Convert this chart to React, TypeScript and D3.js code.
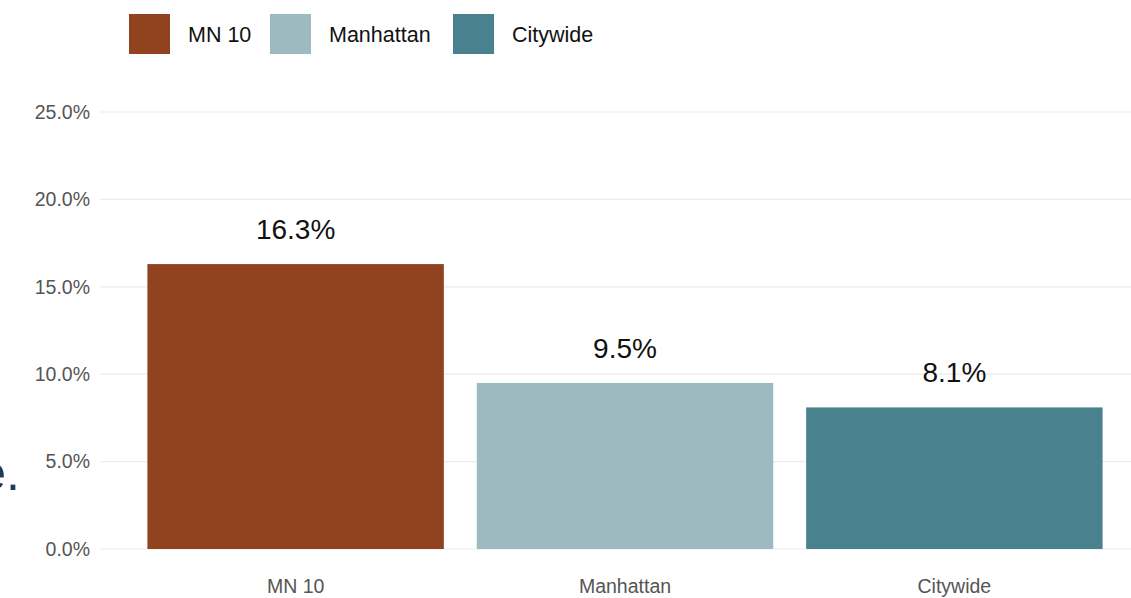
import React from "react";
import * as d3 from "d3";

const categories = ["MN 10", "Manhattan", "Citywide"];
const values = [16.3, 9.5, 8.1];
const valueLabels = ["16.3%", "9.5%", "8.1%"];
const colors = ["#914320", "#9dbac1", "#4a818e"];
const yTicks = [0, 5, 10, 15, 20, 25];

const W = 1131;
const H = 598;

export default function App() {
  const x = d3
    .scaleBand<string>()
    .domain(categories)
    .range([98, 1152])
    .paddingInner(0.1)
    .paddingOuter(0.15);
  const y = d3.scaleLinear().domain([0, 25]).range([549, 112]);
  const fmt = (v: number) => d3.format(".1f")(v) + "%";
  const font = "'Liberation Sans', Arial, sans-serif";

  const legendSquares = [129, 270, 453];
  const legendTextX = [188, 329, 512];

  return (
    <svg
      width={W}
      height={H}
      style={{ position: "absolute", left: 0, top: 0, background: "#fff" }}
      fontFamily={font}
    >
      <rect x={0} y={0} width={W} height={H} fill="#ffffff" />
      {yTicks.map((t) => (
        <g key={t}>
          <line x1={100} x2={W} y1={y(t)} y2={y(t)} stroke="#ebebeb" strokeWidth={1.2} />
          <text
            x={90}
            y={y(t)}
            dy="0.35em"
            textAnchor="end"
            fontSize={19.5}
            fill="#555555"
          >
            {fmt(t)}
          </text>
        </g>
      ))}
      {categories.map((c, i) => (
        <g key={c}>
          <rect
            x={x(c)}
            y={y(values[i])}
            width={x.bandwidth()}
            height={y(0) - y(values[i])}
            fill={colors[i]}
          />
          <text
            x={(x(c) as number) + x.bandwidth() / 2}
            y={y(values[i]) - 25}
            textAnchor="middle"
            fontSize={28}
            fill="#111111"
          >
            {valueLabels[i]}
          </text>
          <text
            x={(x(c) as number) + x.bandwidth() / 2}
            y={593}
            textAnchor="middle"
            fontSize={19.5}
            fill="#555555"
          >
            {c}
          </text>
        </g>
      ))}
      {categories.map((c, i) => (
        <g key={"lg" + c}>
          <rect x={legendSquares[i]} y={14} width={41} height={40} fill={colors[i]} />
          <text x={legendTextX[i]} y={42} fontSize={21.5} fill="#111111">
            {c}
          </text>
        </g>
      ))}
      <text x={20} y={490} textAnchor="end" fontSize={50} fill="#1f3a5f">
        e.
      </text>
    </svg>
  );
}
